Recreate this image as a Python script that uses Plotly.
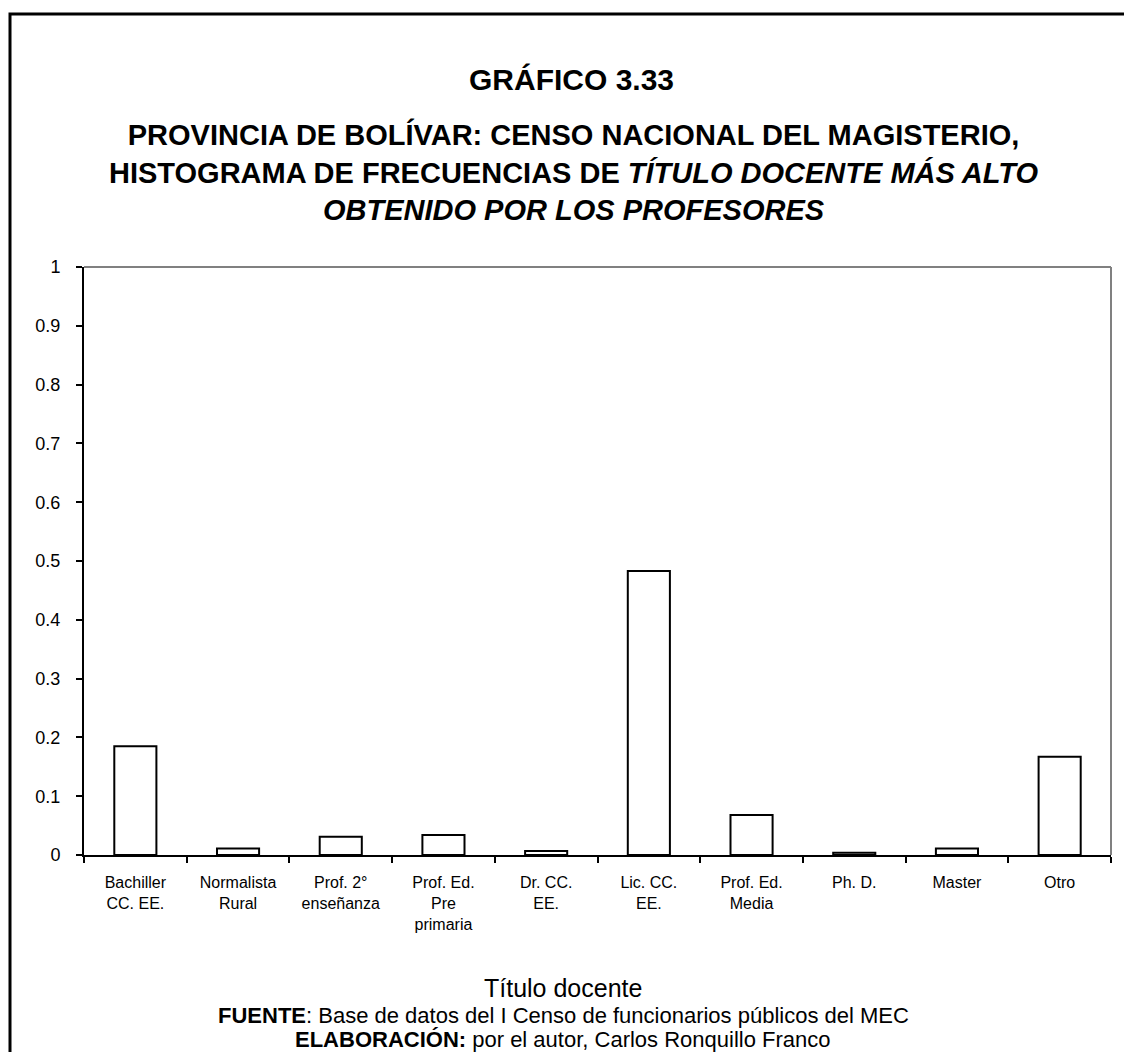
import plotly.graph_objects as go

categories = [
    "Bachiller<br>CC. EE.",
    "Normalista<br>Rural",
    "Prof. 2°<br>enseñanza",
    "Prof. Ed.<br>Pre<br>primaria",
    "Dr. CC.<br>EE.",
    "Lic. CC.<br>EE.",
    "Prof. Ed.<br>Media",
    "Ph. D.",
    "Master",
    "Otro",
]
frequencies = [0.185, 0.011, 0.031, 0.034, 0.007, 0.483, 0.068, 0.004, 0.011, 0.167]
y_ticks = [0, 0.1, 0.2, 0.3, 0.4, 0.5, 0.6, 0.7, 0.8, 0.9, 1]

OFF = 8  # page body margin
W, H = 1132 - OFF, 1052 - OFF
L, R, T, B = 84 - OFF, 1111 - OFF, 267 - OFF, 855 - OFF  # plot area in figure pixels


def px(x):
    return (x - OFF - L) / (R - L)


def py(y):
    return (B - (y - OFF)) / (B - T)


ARIAL = "Liberation Sans, Arial, sans-serif"
NARROW = "Liberation Sans Narrow, Arial Narrow, Liberation Sans, sans-serif"

fig = go.Figure(
    go.Bar(
        x=categories,
        y=frequencies,
        marker=dict(color="white", line=dict(color="black", width=2)),
        width=0.41,
    )
)

fig.update_layout(
    width=W,
    height=H,
    margin=dict(l=L, r=W - R, t=T, b=H - B, pad=0),
    paper_bgcolor="white",
    plot_bgcolor="white",
    showlegend=False,
    font=dict(family=ARIAL, color="black"),
)

fig.update_xaxes(
    type="category",
    showline=True,
    linecolor="black",
    linewidth=2,
    ticks="outside",
    tickson="boundaries",
    ticklen=6,
    tickwidth=2,
    tickcolor="black",
    showgrid=False,
    zeroline=False,
    ticklabelstandoff=12,
    tickfont=dict(family=NARROW, size=16, color="black"),
)
fig.update_yaxes(
    range=[0, 1],
    tickvals=y_ticks,
    ticktext=[f"{v:g}" for v in y_ticks],
    showline=True,
    linecolor="black",
    linewidth=2,
    ticks="outside",
    ticklen=6,
    tickwidth=2,
    tickcolor="black",
    showgrid=False,
    zeroline=False,
    ticklabelstandoff=12,
    tickfont=dict(family=ARIAL, size=18, color="black"),
)

shapes = [
    # gray top & right borders of plot area
    dict(type="line", xref="paper", yref="paper", x0=0, x1=1, y0=1, y1=1,
         line=dict(color="#808080", width=2)),
    dict(type="line", xref="paper", yref="paper", x0=1, x1=1, y0=0, y1=1,
         line=dict(color="#808080", width=2)),
    # outer frame
    dict(type="rect", xref="paper", yref="paper", x0=px(10), x1=px(1160),
         y0=py(1080), y1=py(14), line=dict(color="black", width=3)),
]
fig.update_layout(shapes=shapes)

subtitle = ("<b>PROVINCIA DE BOLÍVAR: CENSO NACIONAL DEL MAGISTERIO,<br>"
            "HISTOGRAMA DE FRECUENCIAS DE <i>TÍTULO DOCENTE MÁS ALTO</i><br>"
            "<i>OBTENIDO POR LOS PROFESORES</i></b>")

annotations = [
    ("<b>GRÁFICO 3.33</b>", 571, 80, 30, ARIAL),
    (subtitle, 574, 172, 29, ARIAL),
    ("Título docente", 563, 988, 25, NARROW),
    ("<b>FUENTE</b>: Base de datos del I Censo de funcionarios públicos del MEC", 563, 1015, 22, ARIAL),
    ("<b>ELABORACIÓN:</b> por el autor, Carlos Ronquillo Franco", 563, 1039, 22, ARIAL),
]
fig.update_layout(annotations=[
    dict(text=t, x=px(x), y=py(y), xref="paper", yref="paper", showarrow=False,
         xanchor="center", yanchor="middle", align="center",
         font=dict(size=s, family=f, color="black"))
    for t, x, y, s, f in annotations
])

fig.write_html("out.html")
